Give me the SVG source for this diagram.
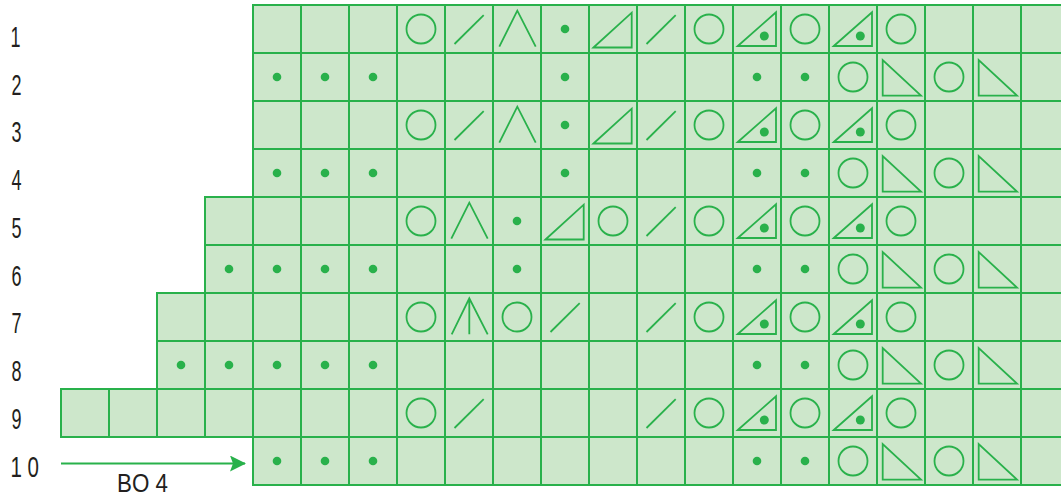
<svg xmlns="http://www.w3.org/2000/svg" xmlns:xlink="http://www.w3.org/1999/xlink" width="1061" height="497" viewBox="0 0 1061 497">
<style>
.cell{fill:#cde7cb;stroke:#29b14b;stroke-width:2}
.sym{fill:none;stroke:#29b14b;stroke-width:1.8;stroke-linejoin:miter}
.dotf{fill:#29b14b;stroke:none}
.lbl{font-family:"Liberation Sans",Arial,sans-serif;font-size:30px;fill:#231f20}
.bo{font-family:"Liberation Sans",Arial,sans-serif;font-size:26px;fill:#231f20}
.conn{stroke:#29b14b;stroke-width:2.2;fill:none}
</style>
<defs>
<rect id="cell" class="cell" width="48" height="48"/>
<circle id="circ" class="sym" cx="24" cy="24" r="14.5"/>
<circle id="dot" class="dotf" cx="24" cy="24" r="4.3"/>
<line id="slash" class="sym" x1="9.5" y1="39" x2="38.7" y2="10.2"/>
<polyline id="lam" class="sym" points="6.3,41.7 24.3,5.7 42.7,41.7"/>
<path id="lamv" class="sym" d="M6.7 41.3L24.3 5.3L42.7 41.3M24.3 5.3V41.3"/>
<polygon id="tri" class="sym" points="4.5,42.5 42.7,7.7 42.7,42.5"/>
<g id="tdot"><polygon class="sym" points="4.8,41 43,7.3 43,41"/><circle class="dotf" cx="31.3" cy="31" r="4.5"/></g>
<polygon id="mtri" class="sym" points="5.7,7 5.7,42.6 44,42.6"/>
<marker id="ah" viewBox="0 0 16 16" refX="15" refY="8" markerWidth="16" markerHeight="16" markerUnits="userSpaceOnUse" orient="auto"><path d="M0 0L16 8L0 16L3 8Z" fill="#29b14b"/></marker>
</defs>
<g id="labels">
<text class="lbl" x="10.5" y="47" textLength="10" lengthAdjust="spacingAndGlyphs">1</text>
<text class="lbl" x="11.5" y="94.7" textLength="10" lengthAdjust="spacingAndGlyphs">2</text>
<text class="lbl" x="11.5" y="142.4" textLength="10" lengthAdjust="spacingAndGlyphs">3</text>
<text class="lbl" x="11.5" y="190.1" textLength="10" lengthAdjust="spacingAndGlyphs">4</text>
<text class="lbl" x="11.5" y="237.8" textLength="10" lengthAdjust="spacingAndGlyphs">5</text>
<text class="lbl" x="11.5" y="285.5" textLength="10" lengthAdjust="spacingAndGlyphs">6</text>
<text class="lbl" x="11.5" y="333.2" textLength="10" lengthAdjust="spacingAndGlyphs">7</text>
<text class="lbl" x="11.5" y="380.9" textLength="10" lengthAdjust="spacingAndGlyphs">8</text>
<text class="lbl" x="11.5" y="428.6" textLength="10" lengthAdjust="spacingAndGlyphs">9</text>
<text class="lbl" x="10.5" y="476.5" textLength="28.5" lengthAdjust="spacingAndGlyphs">1 0</text>
</g>
<g id="row1" transform="translate(0,5)">
<use href="#cell" x="253"/><use href="#cell" x="301"/><use href="#cell" x="349"/><use href="#cell" x="397"/><use href="#cell" x="445"/><use href="#cell" x="493"/><use href="#cell" x="541"/><use href="#cell" x="589"/><use href="#cell" x="637"/><use href="#cell" x="685"/><use href="#cell" x="733"/><use href="#cell" x="781"/><use href="#cell" x="829"/><use href="#cell" x="877"/><use href="#cell" x="925"/><use href="#cell" x="973"/><use href="#cell" x="1021"/>
<use href="#circ" x="397"/><use href="#slash" x="445"/><use href="#lam" x="493"/><use href="#dot" x="541"/><use href="#tri" x="589"/><use href="#slash" x="637"/><use href="#circ" x="685"/><use href="#tdot" x="733"/><use href="#circ" x="781"/><use href="#tdot" x="829"/><use href="#circ" x="877"/>
</g>
<g id="row2" transform="translate(0,53)">
<use href="#cell" x="253"/><use href="#cell" x="301"/><use href="#cell" x="349"/><use href="#cell" x="397"/><use href="#cell" x="445"/><use href="#cell" x="493"/><use href="#cell" x="541"/><use href="#cell" x="589"/><use href="#cell" x="637"/><use href="#cell" x="685"/><use href="#cell" x="733"/><use href="#cell" x="781"/><use href="#cell" x="829"/><use href="#cell" x="877"/><use href="#cell" x="925"/><use href="#cell" x="973"/><use href="#cell" x="1021"/>
<use href="#dot" x="253"/><use href="#dot" x="301"/><use href="#dot" x="349"/><use href="#dot" x="541"/><use href="#dot" x="733"/><use href="#dot" x="781"/><use href="#circ" x="829"/><use href="#mtri" x="877"/><use href="#circ" x="925"/><use href="#mtri" x="973"/>
</g>
<g id="row3" transform="translate(0,101)">
<use href="#cell" x="253"/><use href="#cell" x="301"/><use href="#cell" x="349"/><use href="#cell" x="397"/><use href="#cell" x="445"/><use href="#cell" x="493"/><use href="#cell" x="541"/><use href="#cell" x="589"/><use href="#cell" x="637"/><use href="#cell" x="685"/><use href="#cell" x="733"/><use href="#cell" x="781"/><use href="#cell" x="829"/><use href="#cell" x="877"/><use href="#cell" x="925"/><use href="#cell" x="973"/><use href="#cell" x="1021"/>
<use href="#circ" x="397"/><use href="#slash" x="445"/><use href="#lam" x="493"/><use href="#dot" x="541"/><use href="#tri" x="589"/><use href="#slash" x="637"/><use href="#circ" x="685"/><use href="#tdot" x="733"/><use href="#circ" x="781"/><use href="#tdot" x="829"/><use href="#circ" x="877"/>
</g>
<g id="row4" transform="translate(0,149)">
<use href="#cell" x="253"/><use href="#cell" x="301"/><use href="#cell" x="349"/><use href="#cell" x="397"/><use href="#cell" x="445"/><use href="#cell" x="493"/><use href="#cell" x="541"/><use href="#cell" x="589"/><use href="#cell" x="637"/><use href="#cell" x="685"/><use href="#cell" x="733"/><use href="#cell" x="781"/><use href="#cell" x="829"/><use href="#cell" x="877"/><use href="#cell" x="925"/><use href="#cell" x="973"/><use href="#cell" x="1021"/>
<use href="#dot" x="253"/><use href="#dot" x="301"/><use href="#dot" x="349"/><use href="#dot" x="541"/><use href="#dot" x="733"/><use href="#dot" x="781"/><use href="#circ" x="829"/><use href="#mtri" x="877"/><use href="#circ" x="925"/><use href="#mtri" x="973"/>
</g>
<g id="row5" transform="translate(0,197)">
<use href="#cell" x="205"/><use href="#cell" x="253"/><use href="#cell" x="301"/><use href="#cell" x="349"/><use href="#cell" x="397"/><use href="#cell" x="445"/><use href="#cell" x="493"/><use href="#cell" x="541"/><use href="#cell" x="589"/><use href="#cell" x="637"/><use href="#cell" x="685"/><use href="#cell" x="733"/><use href="#cell" x="781"/><use href="#cell" x="829"/><use href="#cell" x="877"/><use href="#cell" x="925"/><use href="#cell" x="973"/><use href="#cell" x="1021"/>
<use href="#circ" x="397"/><use href="#lam" x="445"/><use href="#dot" x="493"/><use href="#tri" x="541"/><use href="#circ" x="589"/><use href="#slash" x="637"/><use href="#circ" x="685"/><use href="#tdot" x="733"/><use href="#circ" x="781"/><use href="#tdot" x="829"/><use href="#circ" x="877"/>
</g>
<g id="row6" transform="translate(0,245)">
<use href="#cell" x="205"/><use href="#cell" x="253"/><use href="#cell" x="301"/><use href="#cell" x="349"/><use href="#cell" x="397"/><use href="#cell" x="445"/><use href="#cell" x="493"/><use href="#cell" x="541"/><use href="#cell" x="589"/><use href="#cell" x="637"/><use href="#cell" x="685"/><use href="#cell" x="733"/><use href="#cell" x="781"/><use href="#cell" x="829"/><use href="#cell" x="877"/><use href="#cell" x="925"/><use href="#cell" x="973"/><use href="#cell" x="1021"/>
<use href="#dot" x="205"/><use href="#dot" x="253"/><use href="#dot" x="301"/><use href="#dot" x="349"/><use href="#dot" x="493"/><use href="#dot" x="733"/><use href="#dot" x="781"/><use href="#circ" x="829"/><use href="#mtri" x="877"/><use href="#circ" x="925"/><use href="#mtri" x="973"/>
</g>
<g id="row7" transform="translate(0,293)">
<use href="#cell" x="157"/><use href="#cell" x="205"/><use href="#cell" x="253"/><use href="#cell" x="301"/><use href="#cell" x="349"/><use href="#cell" x="397"/><use href="#cell" x="445"/><use href="#cell" x="493"/><use href="#cell" x="541"/><use href="#cell" x="589"/><use href="#cell" x="637"/><use href="#cell" x="685"/><use href="#cell" x="733"/><use href="#cell" x="781"/><use href="#cell" x="829"/><use href="#cell" x="877"/><use href="#cell" x="925"/><use href="#cell" x="973"/><use href="#cell" x="1021"/>
<use href="#circ" x="397"/><use href="#lamv" x="445"/><use href="#circ" x="493"/><use href="#slash" x="541"/><use href="#slash" x="637"/><use href="#circ" x="685"/><use href="#tdot" x="733"/><use href="#circ" x="781"/><use href="#tdot" x="829"/><use href="#circ" x="877"/>
</g>
<g id="row8" transform="translate(0,341)">
<use href="#cell" x="157"/><use href="#cell" x="205"/><use href="#cell" x="253"/><use href="#cell" x="301"/><use href="#cell" x="349"/><use href="#cell" x="397"/><use href="#cell" x="445"/><use href="#cell" x="493"/><use href="#cell" x="541"/><use href="#cell" x="589"/><use href="#cell" x="637"/><use href="#cell" x="685"/><use href="#cell" x="733"/><use href="#cell" x="781"/><use href="#cell" x="829"/><use href="#cell" x="877"/><use href="#cell" x="925"/><use href="#cell" x="973"/><use href="#cell" x="1021"/>
<use href="#dot" x="157"/><use href="#dot" x="205"/><use href="#dot" x="253"/><use href="#dot" x="301"/><use href="#dot" x="349"/><use href="#dot" x="733"/><use href="#dot" x="781"/><use href="#circ" x="829"/><use href="#mtri" x="877"/><use href="#circ" x="925"/><use href="#mtri" x="973"/>
</g>
<g id="row9" transform="translate(0,389)">
<use href="#cell" x="61"/><use href="#cell" x="109"/><use href="#cell" x="157"/><use href="#cell" x="205"/><use href="#cell" x="253"/><use href="#cell" x="301"/><use href="#cell" x="349"/><use href="#cell" x="397"/><use href="#cell" x="445"/><use href="#cell" x="493"/><use href="#cell" x="541"/><use href="#cell" x="589"/><use href="#cell" x="637"/><use href="#cell" x="685"/><use href="#cell" x="733"/><use href="#cell" x="781"/><use href="#cell" x="829"/><use href="#cell" x="877"/><use href="#cell" x="925"/><use href="#cell" x="973"/><use href="#cell" x="1021"/>
<use href="#circ" x="397"/><use href="#slash" x="445"/><use href="#slash" x="637"/><use href="#circ" x="685"/><use href="#tdot" x="733"/><use href="#circ" x="781"/><use href="#tdot" x="829"/><use href="#circ" x="877"/>
</g>
<g id="row10" transform="translate(0,437)">
<use href="#cell" x="253"/><use href="#cell" x="301"/><use href="#cell" x="349"/><use href="#cell" x="397"/><use href="#cell" x="445"/><use href="#cell" x="493"/><use href="#cell" x="541"/><use href="#cell" x="589"/><use href="#cell" x="637"/><use href="#cell" x="685"/><use href="#cell" x="733"/><use href="#cell" x="781"/><use href="#cell" x="829"/><use href="#cell" x="877"/><use href="#cell" x="925"/><use href="#cell" x="973"/><use href="#cell" x="1021"/>
<use href="#dot" x="253"/><use href="#dot" x="301"/><use href="#dot" x="349"/><use href="#dot" x="733"/><use href="#dot" x="781"/><use href="#circ" x="829"/><use href="#mtri" x="877"/><use href="#circ" x="925"/><use href="#mtri" x="973"/>
</g>
<g id="connectors">
<line class="conn" x1="61" y1="463.5" x2="245" y2="463.5" marker-end="url(#ah)"/>
</g>
<text class="bo" x="117" y="492" textLength="51" lengthAdjust="spacingAndGlyphs">BO 4</text>
</svg>
